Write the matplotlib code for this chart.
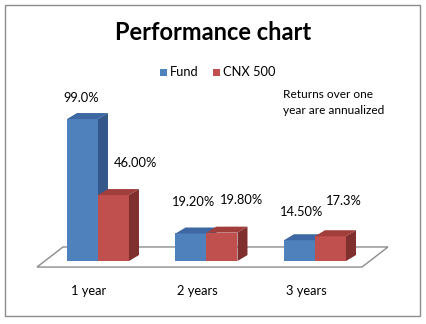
import matplotlib
matplotlib.use("Agg")
import matplotlib.pyplot as plt
from matplotlib.patches import Polygon, Rectangle

plt.rcParams['font.family'] = ['Lato', 'DejaVu Sans']

categories = ["1 year", "2 years", "3 years"]
fund = [99.0, 19.2, 14.5]
cnx500 = [46.0, 19.8, 17.3]
fund_labels = ["99.0%", "19.20%", "14.50%"]
cnx_labels = ["46.00%", "19.80%", "17.3%"]
series_names = ["Fund", "CNX 500"]

W, H = 426, 324
fig = plt.figure(figsize=(W / 100, H / 100), dpi=100)
ax = fig.add_axes([0, 0, 1, 1])
ax.set_xlim(-0.903, 3.023)
ax.set_ylim(-43.9, 182.0)
ax.axis("off")

# pixels per data unit
px_x = W / (3.023 + 0.903)
px_y = H / (182.0 + 43.9)

depth_dx = 10 / px_x
depth_dy = 6 / px_y
bar_w = 31 / px_x

styles = {
    "Fund": dict(front="#4F81BD", top="#3D68A3", side="#34588A"),
    "CNX 500": dict(front="#C0504D", top="#A13E3B", side="#7F2F2D"),
}

# floor plane
f_lo, f_hi = -0.562, 2.433
f_front, f_back = -4.2, 9.8
f_shift = 26 / px_x
floor = Polygon([(f_lo, f_front), (f_hi, f_front), (f_hi + f_shift, f_back),
                 (f_lo + f_shift, f_back)], closed=True, facecolor="white",
                edgecolor="#8C8C8C", linewidth=1.0, zorder=1)
ax.add_patch(floor)


def box(x0, h, st):
    x1 = x0 + bar_w
    ax.add_patch(Polygon([(x0, 0), (x1, 0), (x1, h), (x0, h)], closed=True,
                         facecolor=st["front"], edgecolor="none", zorder=2))
    ax.add_patch(Polygon([(x0, h), (x1, h), (x1 + depth_dx, h + depth_dy),
                          (x0 + depth_dx, h + depth_dy)], closed=True,
                         facecolor=st["top"], edgecolor="none", zorder=2))
    ax.add_patch(Polygon([(x1, 0), (x1 + depth_dx, depth_dy),
                          (x1 + depth_dx, h + depth_dy), (x1, h)], closed=True,
                         facecolor=st["side"], edgecolor="none", zorder=2))


fund_off = [(-1, 21), (3, 31), (2.5, 28)]
cnx_off = [(22, 32), (19.5, 32.6), (13.5, 35)]

for i, cat in enumerate(categories):
    box(i - bar_w, fund[i], styles["Fund"])
    box(i, cnx500[i], styles["CNX 500"])
    ax.annotate(fund_labels[i], (i - bar_w / 2, fund[i]), xytext=fund_off[i],
                textcoords="offset pixels", ha="center", va="center",
                fontsize=9.3, color="black", zorder=5)
    ax.annotate(cnx_labels[i], (i + bar_w / 2, cnx500[i]), xytext=cnx_off[i],
                textcoords="offset pixels", ha="center", va="center",
                fontsize=9.3, color="black", zorder=5)
    ax.annotate(cat, (i, 0), xytext=(-9, -30), textcoords="offset pixels",
                ha="center", va="center", fontsize=9.3, color="black")

# title, legend, note
fig.text(213 / W, 1 - 33 / H, "Performance chart", ha="center", va="center",
         fontsize=17, fontweight="bold")

leg = [(160, series_names[0], styles["Fund"]["front"]),
       (213, series_names[1], styles["CNX 500"]["front"])]
for x, name, col in leg:
    fig.patches.append(Rectangle((x / W, 1 - 75.5 / H), 7 / W, 7 / H,
                                 transform=fig.transFigure, facecolor=col,
                                 edgecolor="none"))
    fig.text((x + 10) / W, 1 - 72 / H, name, ha="left", va="center", fontsize=9.3)

fig.text(283 / W, 1 - 94 / H, "Returns over one", ha="left", va="center", fontsize=8.6)
fig.text(283 / W, 1 - 111 / H, "year are annualized", ha="left", va="center", fontsize=8.6)

# chart border
fig.patches.append(Rectangle((5 / W, 1 - 316 / H), 415 / W, 311 / H,
                             transform=fig.transFigure, facecolor="none",
                             edgecolor="#8C8C8C", linewidth=1.0))

fig.savefig("out.png", dpi=100, facecolor="white")
